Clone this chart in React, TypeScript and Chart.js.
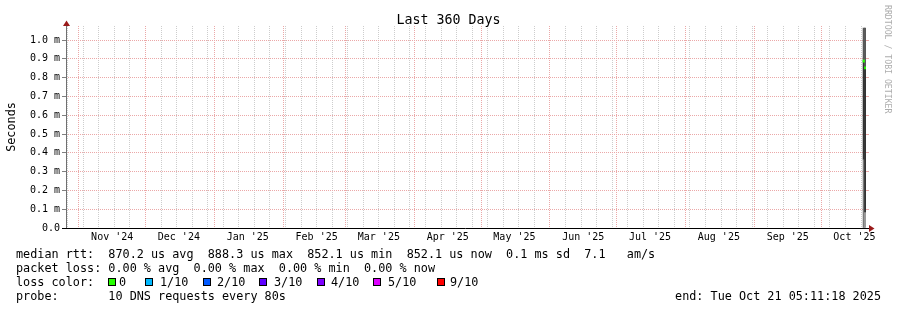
import { useEffect, useRef } from 'react';
import { Chart, registerables } from 'chart.js';

Chart.register(...registerables);

const FONT = '"DejaVu Sans Mono", monospace';
const DAY = 86400000;

// ---- time frame ----
const endTime = Date.UTC(2025, 9, 21, 5, 11, 18);
const spanDays = 360;
const startTime = endTime - spanDays * DAY;
const toDay = (t: number) => (t - startTime) / DAY;

// ---- axis labels ----
const titleText = 'Last 360 Days';
const yAxisTitle = 'Seconds';
const monthLabels = ["Nov '24", "Dec '24", "Jan '25", "Feb '25", "Mar '25", "Apr '25", "May '25", "Jun '25", "Jul '25", "Aug '25", "Sep '25", "Oct '25"];
const firstMonth = { year: 2024, month: 10 };
const yTicks = [0, 0.1, 0.2, 0.3, 0.4, 0.5, 0.6, 0.7, 0.8, 0.9, 1.0];
const yMax = 1.075;

// ---- data (milliseconds) ----
const sampleTimes = [Date.UTC(2025, 9, 20, 5, 0, 0), Date.UTC(2025, 9, 20, 21, 0, 0)];
const medianRtt = [0.8883, 0.8521];
const smokeMin = [0.0, 0.0];
const smokeLowCore = [0.367, 0.085];
const smokeMax = [1.064, 1.064];

// ---- legend texts ----
const statLines = [
  'median rtt:  870.2 us avg  888.3 us max  852.1 us min  852.1 us now  0.1 ms sd  7.1   am/s',
  'packet loss: 0.00 % avg  0.00 % max  0.00 % min  0.00 % now',
];
const lossTitle = 'loss color:';
const lossLabels = ['0', '1/10', '2/10', '3/10', '4/10', '5/10', '9/10'];
const lossColors = ['#26ff00', '#00b8ff', '#0059ff', '#5e00ff', '#7e00ff', '#dd00ff', '#ff0000'];
const probeLine = 'probe:       10 DNS requests every 80s';
const endLine = 'end: Tue Oct 21 05:11:18 2025';
const watermark = 'RRDTOOL / TOBI OETIKER';

// ---- layout / style constants ----
const W = 897;
const H = 310;
const lossBoxX = [108, 145, 203, 259, 317, 373, 437];
const lossTextX = [119, 160, 217, 274, 331, 388, 450];
const MGRID = '#eba8a8';
const GRID = '#cdcdcd';
const ARROW = '#9a1a1a';

type XTick = { value: number; kind: 'month' | 'week' | 'label'; label: string };

function buildXTicks(): XTick[] {
  const ticks: XTick[] = [];
  const monthDays = new Set<number>();
  monthLabels.forEach((lab, i) => {
    const t = Date.UTC(firstMonth.year, firstMonth.month + i, 1);
    const d = toDay(t);
    monthDays.add(Math.round(d * 1000));
    ticks.push({ value: d, kind: 'month', label: '' });
    ticks.push({ value: toDay(t + 15 * DAY), kind: 'label', label: lab });
  });
  // weekly lines on Sundays
  let t = Date.UTC(2024, 9, 27);
  while (t < endTime) {
    const d = toDay(t);
    if (d > 0 && !monthDays.has(Math.round(d * 1000))) ticks.push({ value: d, kind: 'week', label: '' });
    t += 7 * DAY;
  }
  return ticks.filter((k) => k.value >= 0 && k.value <= spanDays).sort((a, b) => a.value - b.value);
}

const decor = {
  id: 'rrdDecor',
  afterDraw(chart: any) {
    const { ctx, chartArea: a, scales } = chart;
    const ys = scales.y;
    const line = (x1: number, y1: number, x2: number, y2: number) => {
      ctx.beginPath();
      ctx.moveTo(x1, y1);
      ctx.lineTo(x2, y2);
      ctx.stroke();
    };
    const tri = (x1: number, y1: number, x2: number, y2: number, x3: number, y3: number) => {
      ctx.beginPath();
      ctx.moveTo(x1, y1);
      ctx.lineTo(x2, y2);
      ctx.lineTo(x3, y3);
      ctx.closePath();
      ctx.fill();
    };
    ctx.save();
    ctx.lineWidth = 1;
    ctx.setLineDash([]);
    for (const v of yTicks) {
      const py = Math.round(ys.getPixelForValue(v) - 0.5) + 0.5;
      ctx.strokeStyle = '#808080';
      line(a.left - 4, py, a.left, py);
      ctx.strokeStyle = MGRID;
      line(a.right, py, a.right + 3, py);
    }
    const ax = Math.round(a.left - 0.5) + 0.5;
    const ay = Math.round(a.bottom - 0.5) + 0.5;
    ctx.strokeStyle = '#707070';
    line(ax, a.bottom, ax, a.top - 3);
    ctx.strokeStyle = '#000';
    line(a.left - 4, ay, a.right + 3, ay);
    ctx.fillStyle = ARROW;
    tri(ax, a.top - 5.5, ax - 3.5, a.top, ax + 3.5, a.top);
    tri(a.right + 8.5, ay, a.right + 3, ay - 3.5, a.right + 3, ay + 3.5);

    // title
    ctx.fillStyle = '#000';
    ctx.textBaseline = 'alphabetic';
    ctx.textAlign = 'center';
    ctx.font = `13.3px ${FONT}`;
    ctx.fillText(titleText, W / 2, 24);

    // y axis title
    ctx.font = `11.8px ${FONT}`;
    ctx.save();
    ctx.translate(14.5, (a.top + a.bottom) / 2);
    ctx.rotate(-Math.PI / 2);
    ctx.textAlign = 'center';
    ctx.fillText(yAxisTitle, 0, 0);
    ctx.restore();

    // watermark
    ctx.save();
    ctx.fillStyle = '#adadad';
    ctx.font = `8.2px ${FONT}`;
    ctx.translate(885, 5);
    ctx.rotate(Math.PI / 2);
    ctx.textAlign = 'left';
    ctx.fillText(watermark, 0, 0);
    ctx.restore();

    // legend
    ctx.fillStyle = '#000';
    ctx.textAlign = 'left';
    ctx.font = `11.8px ${FONT}`;
    ctx.fillText(statLines[0], 16, 258);
    ctx.fillText(statLines[1], 16, 272);
    ctx.fillText(lossTitle, 16, 286);
    lossLabels.forEach((lab, i) => {
      ctx.fillStyle = lossColors[i];
      ctx.fillRect(lossBoxX[i], 278, 8, 8);
      ctx.strokeStyle = '#000';
      ctx.strokeRect(lossBoxX[i] + 0.5, 278.5, 7, 7);
      ctx.fillStyle = '#000';
      ctx.fillText(lab, lossTextX[i], 286);
    });
    ctx.fillText(probeLine, 16, 300);
    ctx.textAlign = 'right';
    ctx.fillText(endLine, 881, 300);
    ctx.restore();
  },
};

export default function App() {
  const ref = useRef<HTMLCanvasElement>(null);
  useEffect(() => {
    document.body.style.margin = '0';
    const canvas = ref.current!;
    const xTicks = buildXTicks();
    const days = sampleTimes.map(toDay);
    const pts = (lo: number[], hi: number[]) => days.map((x, i) => ({ x, y: [lo[i], hi[i]] }));
    const medLo = medianRtt.map((v) => v - 0.006);
    const medHi = medianRtt.map((v) => v + 0.006);
    const common = {
      xAxisID: 'xd',
      yAxisID: 'y',
      grouped: false,
      barPercentage: 1,
      categoryPercentage: 1,
      borderWidth: 0,
    };
    const chart = new Chart(canvas, {
      type: 'bar',
      data: {
        datasets: [
          { ...common, label: 'median rtt', data: pts(medLo, medHi), backgroundColor: lossColors[0] },
          { ...common, label: 'smoke upper', data: pts(medianRtt, smokeMax), backgroundColor: '#575757' },
          { ...common, label: 'smoke core', data: pts(smokeLowCore, medianRtt), backgroundColor: '#333333' },
          { ...common, label: 'smoke low', data: pts(smokeMin, smokeLowCore), backgroundColor: ['#7a7a7a', '#9a9a9a'] },
        ] as any,
      },
      options: {
        responsive: false,
        animation: false,
        devicePixelRatio: 1,
        events: [],
        layout: { padding: { left: 0, right: W - 866, top: 26, bottom: H - 228 - 20 }, autoPadding: false } as any,
        plugins: {
          legend: { display: false },
          tooltip: { enabled: false },
          title: { display: false },
        },
        scales: {
          x: {
            type: 'linear',
            position: 'bottom',
            offset: false,
            min: 0,
            max: spanDays,
            afterBuildTicks: (s: any) => {
              s.ticks = xTicks.map((k) => ({ value: k.value }));
            },
            afterFit: (s: any) => {
              s.height = 20;
            },
            ticks: {
              autoSkip: false,
              maxRotation: 0,
              minRotation: 0,
              padding: 3,
              color: '#000',
              font: { family: FONT, size: 10 },
              callback: (_v: any, i: number) => xTicks[i]?.label ?? '',
            },
            grid: {
              offset: false,
              drawTicks: false,
              color: (c: any) => (xTicks[c.index]?.kind === 'month' ? MGRID : GRID),
              lineWidth: (c: any) => (xTicks[c.index]?.kind === 'label' ? 0 : 1),
            },
            border: { display: false, dash: [1, 1] },
          },
          xd: {
            type: 'linear',
            axis: 'x',
            position: 'bottom',
            display: false,
            offset: false,
            grid: { offset: false },
            min: 0,
            max: spanDays,
          },
          y: {
            type: 'linear',
            position: 'left',
            min: 0,
            max: yMax,
            afterBuildTicks: (s: any) => {
              s.ticks = yTicks.map((v) => ({ value: v }));
            },
            afterFit: (s: any) => {
              s.width = 66;
            },
            ticks: {
              padding: 6,
              color: '#000',
              font: { family: FONT, size: 10 },
              callback: (v: any) => (Number(v) === 0 ? '0.0' : `${Number(v).toFixed(1)} m`),
            },
            grid: { drawTicks: false, color: MGRID, lineWidth: 1 },
            border: { display: false, dash: [1, 1] },
          },
        } as any,
      },
      plugins: [decor],
    });
    return () => chart.destroy();
  }, []);
  return (
    <div style={{ position: 'absolute', left: 0, top: 0, width: W, height: H, background: '#fff' }}>
      <canvas ref={ref} width={W} height={H} style={{ display: 'block', width: W, height: H }} />
    </div>
  );
}
